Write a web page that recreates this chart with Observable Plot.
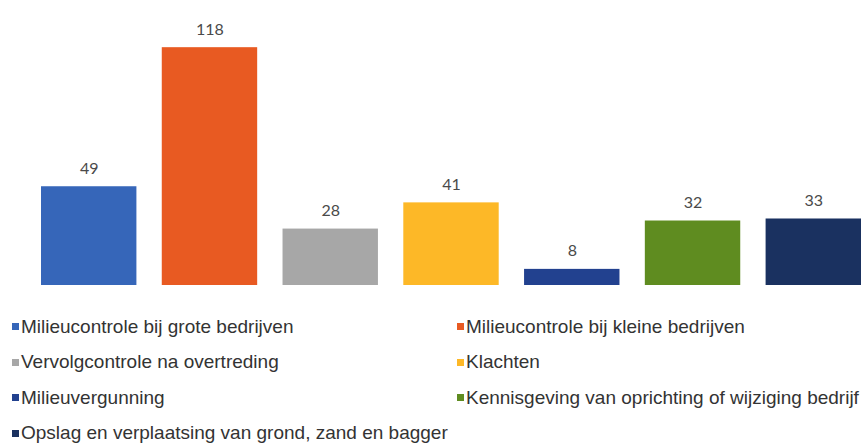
<!DOCTYPE html>
<html>
<head>
<meta charset="utf-8">
<script src="https://cdn.jsdelivr.net/npm/d3@7"></script>
<script src="https://cdn.jsdelivr.net/npm/@observablehq/plot@0.6"></script>
<style>
  body { margin: 0; background: #fff; overflow: hidden; }
  #legend { display: grid; grid-template-columns: 445px 423px; grid-auto-rows: 35.5px; margin-top: 9px;
    font-family: "Liberation Sans", Arial, sans-serif; font-size: 19px; color: #333; }
  #legend .item { display: flex; align-items: center; padding-left: 12px; white-space: nowrap; }
  #legend .item:nth-child(even) { padding-left: 12px; }
  #legend .sw { width: 7px; height: 7px; margin-right: 2px; flex: none; }
</style>
</head>
<body>
<div id="chart"></div>
<div id="legend"></div>
<script>
const categories = [
  "Milieucontrole bij grote bedrijven",
  "Milieucontrole bij kleine bedrijven",
  "Vervolgcontrole na overtreding",
  "Klachten",
  "Milieuvergunning",
  "Kennisgeving van oprichting of wijziging bedrijf",
  "Opslag en verplaatsing van grond, zand en bagger"
];
const values = [49, 118, 28, 41, 8, 32, 33];
const colors = ["#3666b9", "#e85a22", "#a7a7a7", "#fdb827", "#22418f", "#5f8c20", "#1a3160"];

const data = categories.map((c, i) => ({cat: c, value: values[i]}));

const chart = Plot.plot({
  width: 868,
  height: 300,
  marginLeft: 41,
  marginRight: 7,
  marginTop: 23,
  marginBottom: 15,
  x: {domain: categories, paddingInner: 0.21, paddingOuter: 0, round: false, axis: null},
  y: {domain: [0, 130], axis: null},
  color: {domain: categories, range: colors},
  marks: [
    Plot.barY(data, {x: "cat", y: "value", fill: "cat"}),
    Plot.text(data, {x: "cat", y: "value", text: d => String(d.value), dy: -13, lineAnchor: "bottom",
      fill: "#4a4a4a", fontSize: 16, fontFamily: "Lato, 'Open Sans', sans-serif"})
  ]
});
document.getElementById("chart").appendChild(chart);

const legend = document.getElementById("legend");
categories.forEach((c, i) => {
  const item = document.createElement("div");
  item.className = "item";
  const sw = document.createElement("span");
  sw.className = "sw";
  sw.style.background = colors[i];
  const t = document.createElement("span");
  t.textContent = c;
  item.appendChild(sw);
  item.appendChild(t);
  legend.appendChild(item);
});
</script>
</body>
</html>
